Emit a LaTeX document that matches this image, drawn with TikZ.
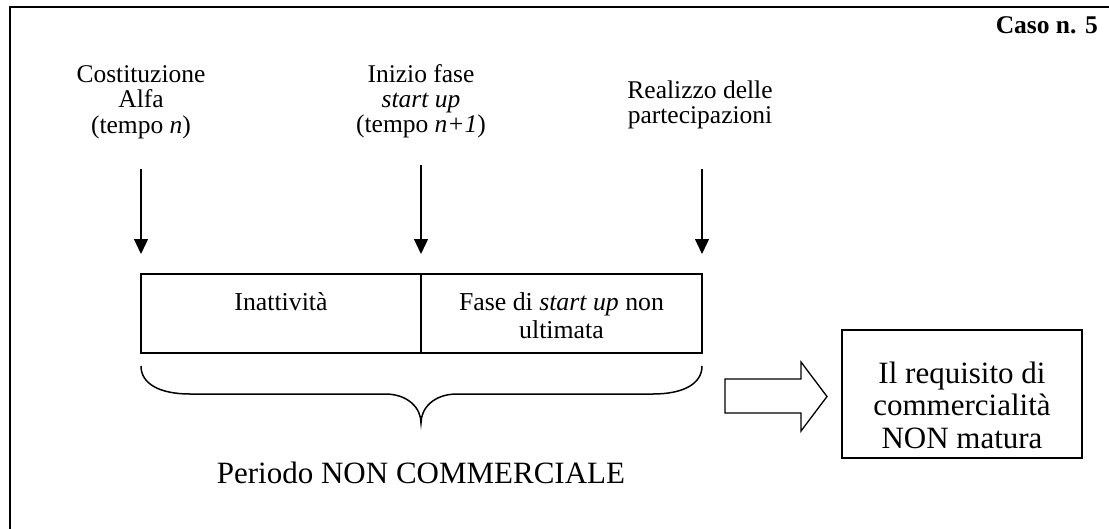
\documentclass[tikz,border=0pt]{standalone}
\usepackage{fontspec}
\setmainfont{Liberation Serif}
\usetikzlibrary{arrows.meta}
\newcommand{\mlines}[1]{\begin{tabular}[t]{@{}c@{}}#1\end{tabular}}
\begin{document}
\begin{tikzpicture}[x=1pt,y=-1pt,
  lbl/.style={anchor=base,inner sep=0pt,font=\fontsize{25.5}{25}\selectfont},
  boxtxt/.style={anchor=base,inner sep=0pt,font=\fontsize{25.8}{28}\selectfont},
  bigtxt/.style={anchor=base,inner sep=0pt,font=\fontsize{31}{32.5}\selectfont},
  arr/.style={line width=1.3pt,-{Triangle[length=15pt,width=14pt]}},
  cell/.style={draw,line width=1.5pt,inner sep=0pt,minimum height=79pt},
  frame/.style={line width=2.3pt}]
\useasboundingbox (0,0) rectangle (1109,528);
\clip (0,0) rectangle (1109,528);
\fill[white] (0,0) rectangle (1109,528);
% frame (cropped)
\draw[frame] (10,540) -- (10,7) -- (1120,7);
\node[anchor=base east,inner sep=0pt,font=\fontsize{25.5}{28}\selectfont\bfseries] (caso) at (1098,33.3) {Caso n. 5};
% top labels
\node[lbl] (c1) at (141,82.5) {\mlines{Costituzione\\Alfa\\(tempo \textit{n})}};
\node[lbl] (c2) at (421,82.5) {\mlines{Inizio fase\\\textit{start up}\\(tempo \textit{n+1})}};
\node[lbl] (c3) at (700,98.3) {\mlines{Realizzo delle\\partecipazioni}};
% arrow ends
\coordinate (a1s) at (141,169); \coordinate (a1e) at (141,254);
\coordinate (a2s) at (421,165); \coordinate (a2e) at (421,254);
\coordinate (a3s) at (702,169); \coordinate (a3e) at (702,254);
\draw[arr] (a1s) -- (a1e);
\draw[arr] (a2s) -- (a2e);
\draw[arr] (a3s) -- (a3e);
% timeline boxes
\node[cell,minimum width=280pt] (b1) at (281,313.5) {};
\node[cell,minimum width=281pt] (b2) at (561.5,313.5) {};
\node[boxtxt] (t1) at (281,310) {Inattività};
\node[boxtxt] (t2) at (561.5,310) {\mlines{Fase di \textit{start up} non\\ultimata}};
% brace
\draw[line width=1.5pt] (141,366) .. controls (141,384) and (160,394) .. (190,394)
  -- (385,394) .. controls (408,394) and (421,408) .. (421,423)
  .. controls (421,408) and (434,394) .. (457,394)
  -- (653,394) .. controls (683,394) and (702,384) .. (702,366);
\node[bigtxt] (per) at (421,483) {Periodo NON COMMERCIALE};
% hollow arrow
\draw[line width=1.3pt,line join=miter] (725,379) -- (801,379) -- (801,362) -- (827,396.5)
  -- (801,431) -- (801,413) -- (725,413) -- cycle;
% result box
\node[draw,line width=1.5pt,minimum width=240pt,minimum height=128pt,inner sep=0pt] (res) at (962,394) {};
\node[bigtxt] (rt) at (962,383) {\mlines{Il requisito di\\commercialità\\NON matura}};
\end{tikzpicture}
\end{document}
